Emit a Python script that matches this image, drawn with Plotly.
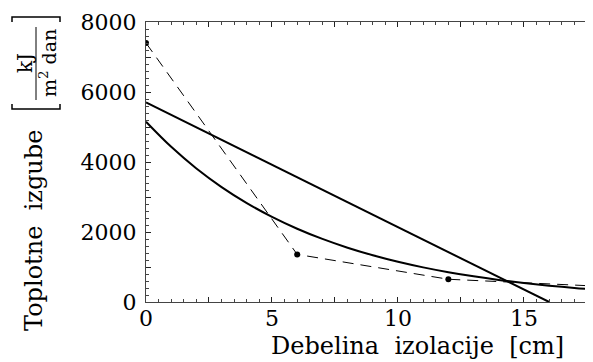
import plotly.graph_objects as go

# Data
dashed_x = [0, 6, 12, 18]
dashed_y = [7400, 1360, 650, 450]

line_x = [0, 16]
line_y = [5700, 0]

curve_x = [0, 1, 2, 3, 4, 5, 6, 7, 8, 9, 10, 11, 12, 13, 14, 15, 16, 17, 18]
curve_y = [5150, 4433, 3815, 3284, 2826, 2433, 2094, 1802, 1551, 1335,
           1149, 989, 851, 733, 631, 543, 467, 402, 346]

x_tickvals = [0, 2.5, 5, 7.5, 10, 12.5, 15, 17.5]
x_ticktext = ["0", "", "5", "", "10", "", "15", ""]
y_tickvals = [0, 1000, 2000, 3000, 4000, 5000, 6000, 7000, 8000]
y_ticktext = ["0", "", "2000", "", "4000", "", "6000", "", "8000"]

FONT = "DejaVu Serif"
OFF = 8  # default body margin of the page
L, T, R, B = 146, 22, 593, 302  # plot area in page pixels
W, H = 593 - OFF, 362 - OFF


def px(x):
    return (x - L) / (R - L)


def py(y):
    return (B - y) / (B - T)


fig = go.Figure()
fig.add_trace(go.Scatter(x=line_x, y=line_y, mode="lines",
                         line=dict(color="black", width=2)))
fig.add_trace(go.Scatter(x=curve_x, y=curve_y, mode="lines",
                         line=dict(color="black", width=2, shape="spline")))
fig.add_trace(go.Scatter(x=dashed_x, y=dashed_y, mode="lines+markers",
                         line=dict(color="black", width=1, dash="11px,7px"),
                         marker=dict(color="black", size=6)))

fig.update_layout(
    width=W, height=H,
    margin=dict(l=L - OFF, r=0, t=T - OFF, b=H - (B - OFF), autoexpand=False),
    paper_bgcolor="white", plot_bgcolor="white",
    showlegend=False,
    font=dict(family=FONT, color="black", size=22),
)
fig.update_xaxes(
    range=[0, 17.74], showgrid=False, zeroline=False, automargin=False,
    showline=True, linecolor="#444", linewidth=1, mirror="ticks",
    ticks="inside", ticklen=5, tickcolor="#222", tickwidth=1,
    tickvals=x_tickvals, ticktext=x_ticktext,
    tickfont=dict(family=FONT, size=22), ticklabelstandoff=-3,
    minor=dict(dtick=0.5, ticks="inside", ticklen=3, tickcolor="#444", showgrid=False),
)
fig.update_yaxes(
    range=[0, 8000], showgrid=False, zeroline=False, automargin=False,
    showline=True, linecolor="#444", linewidth=1,
    ticks="inside", ticklen=5, tickcolor="#222", tickwidth=1,
    tickvals=y_tickvals, ticktext=y_ticktext,
    tickfont=dict(family=FONT, size=22), ticklabelstandoff=4,
    minor=dict(dtick=200, ticks="inside", ticklen=3, tickcolor="#444", showgrid=False),
)

# x-axis title
fig.add_annotation(text="Debelina  izolacije  [cm]", xref="paper", yref="paper",
                   x=px(417), y=py(346), showarrow=False,
                   font=dict(family=FONT, size=24),
                   xanchor="center", yanchor="middle")

# y-axis title composed of rotated text + fraction in brackets
fig.add_annotation(text="Toplotne  izgube", xref="paper", yref="paper",
                   x=px(34), y=py(231), textangle=-90,
                   showarrow=False, font=dict(family=FONT, size=24),
                   xanchor="center", yanchor="middle")
fig.add_annotation(text="kJ", xref="paper", yref="paper",
                   x=px(25), y=py(63), textangle=-90,
                   showarrow=False, font=dict(family=FONT, size=20),
                   xanchor="center", yanchor="middle")
fig.add_annotation(text="m<sup>2</sup> dan", xref="paper", yref="paper",
                   x=px(48), y=py(63), textangle=-90,
                   showarrow=False, font=dict(family=FONT, size=19),
                   xanchor="center", yanchor="middle")
# fraction bar
fig.add_shape(type="line", xref="paper", yref="paper",
              x0=px(36), x1=px(36), y0=py(27), y1=py(100),
              line=dict(color="black", width=1))
# rotated brackets
fig.add_shape(type="path", xref="paper", yref="paper",
              path=f"M {px(12)} {py(22)} L {px(12)} {py(17)} L {px(60)} {py(17)} L {px(60)} {py(22)}",
              line=dict(color="black", width=1.5))
fig.add_shape(type="path", xref="paper", yref="paper",
              path=f"M {px(12)} {py(104)} L {px(12)} {py(109)} L {px(60)} {py(109)} L {px(60)} {py(104)}",
              line=dict(color="black", width=1.5))

fig.write_html("out.html")
